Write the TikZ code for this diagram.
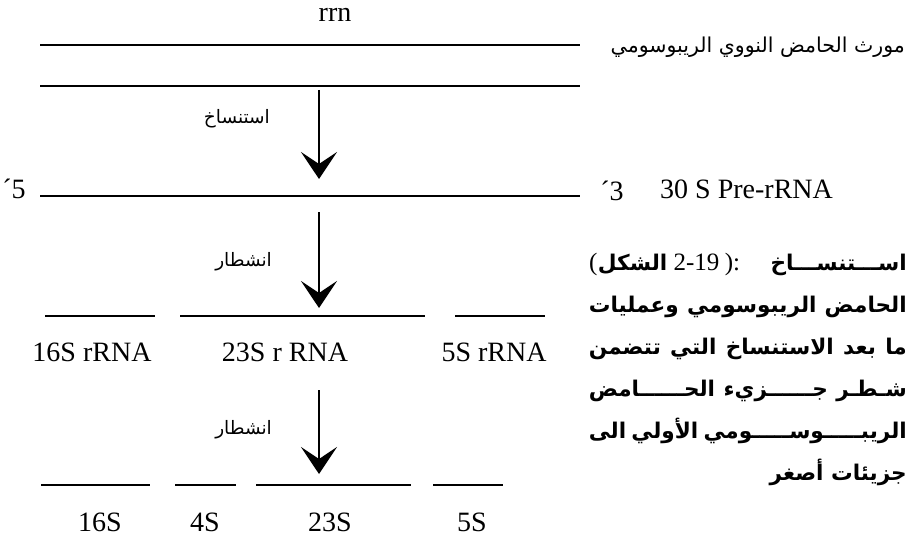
\documentclass[tikz,border=0pt]{standalone}
\usepackage{fontspec}
\setmainfont{Liberation Serif}
\newfontfamily\arabicfont[Script=Arabic]{DejaVu Sans}
\TeXXeTstate=1
\usetikzlibrary{arrows.meta}
\tikzset{
  strand/.style={line width=2.4pt},
  procarrow/.style={line width=2.2pt,-{Stealth[length=27pt,width=36pt,inset=12pt]}},
  lat/.style={font=\fontsize{28}{31}\selectfont,inner sep=0pt},
  arlabel/.style={font=\fontsize{18.5}{22}\selectfont\arabicfont,inner sep=0pt,anchor=east},
  capline/.style={font=\fontsize{21.6}{25}\selectfont\arabicfont\bfseries,inner sep=0pt,anchor=base east},
  capnum/.style={font=\fontsize{25}{28}\selectfont,inner sep=0pt,anchor=base west}
}
\begin{document}
\begin{tikzpicture}[x=1pt,y=-1pt]
\useasboundingbox (0,0) rectangle (917,540);
% strands
\coordinate (g1a) at (40,45); \coordinate (g1b) at (580,45);
\coordinate (g2a) at (40,86); \coordinate (g2b) at (580,86);
\coordinate (p1) at (40,196); \coordinate (p2) at (580,196);
\draw[strand] (g1a) -- (g1b);
\draw[strand] (g2a) -- (g2b);
\draw[strand] (p1) -- (p2);
\coordinate (r16a) at (45,316); \coordinate (r16b) at (155,316);
\coordinate (r23a) at (180,316); \coordinate (r23b) at (425,316);
\coordinate (r5a) at (455,316); \coordinate (r5b) at (545,316);
\draw[strand] (r16a) -- (r16b);
\draw[strand,line width=2pt] (r23a) -- (r23b);
\draw[strand,line width=1.6pt] (r5a) -- (r5b);
\coordinate (f16a) at (41,485); \coordinate (f16b) at (150,485);
\coordinate (f4a) at (175,485); \coordinate (f4b) at (236,485);
\coordinate (f23a) at (256,485); \coordinate (f23b) at (411,485);
\coordinate (f5a) at (433,485); \coordinate (f5b) at (503,485);
\draw[strand,line width=2.8pt] (f16a) -- (f16b);
\draw[strand,line width=1.6pt] (f4a) -- (f4b);
\draw[strand,line width=2pt] (f23a) -- (f23b);
\draw[strand,line width=2pt] (f5a) -- (f5b);
% arrows
\coordinate (a1s) at (319,90); \coordinate (a1e) at (319,179);
\coordinate (a2s) at (319,212); \coordinate (a2e) at (319,308);
\coordinate (a3s) at (319,390); \coordinate (a3e) at (319,474);
\draw[procarrow] (a1s) -- (a1e);
\draw[procarrow] (a2s) -- (a2e);
\draw[procarrow] (a3s) -- (a3e);
% labels
\node[lat] (rrn) at (335,15) {rrn};
\node[font=\fontsize{20.5}{24}\selectfont\arabicfont,inner sep=0pt,anchor=east] (gene) at (905,47) {\beginR مورث الحامض النووي الريبوسومي\endR};
\node[arlabel] (l1) at (270,119) {\beginR استنساخ\endR};
\node[arlabel] (l2) at (272,262) {\beginR انشطار\endR};
\node[arlabel] (l3) at (272,430) {\beginR انشطار\endR};
\node[lat] (five) at (14,189) {´5};
\node[lat] (three) at (612,191) {´3};
\node[lat,anchor=west] (pre) at (660,189) {30 S Pre-rRNA};
\node[lat] (n16) at (92,352) {16S rRNA};
\node[lat] (n23) at (285,352) {23S r RNA};
\node[lat] (n5) at (494,352) {5S rRNA};
\node[lat] (m16) at (100,522) {16S};
\node[lat] (m4) at (205,522) {4S};
\node[lat] (m23) at (330,522) {23S};
\node[lat] (m5) at (472,522) {5S};
% caption, first line in pieces, left to right
\node[capnum] (c1a) at (589,270) {(};
\node[capline,anchor=base west] (c1b) at (c1a.base east) {الشكل};
\node[capnum] (c1c) at ([xshift=6pt]c1b.base east) {2-19};
\node[capnum] (c1d) at ([xshift=5pt]c1c.base east) {):};
\node[capline] (c1e) at (907,270) {اســـتنســـاخ};
\node[capline] (c2) at (907,312) {\makebox[318pt][s]{\beginR الحامض الريبوسومي وعمليات\endR}};
\node[capline] (c3) at (907,354) {\makebox[318pt][s]{\beginR ما بعد الاستنساخ التي تتضمن\endR}};
\node[capline] (c4) at (907,396) {\makebox[318pt][s]{\beginR شـطـر جــــــزيء الحــــــامض\endR}};
\node[capline] (c5) at (907,438) {\makebox[318pt][s]{\beginR الريبـــــوســـــومي الأولي الى\endR}};
\node[capline] (c6) at (907,480) {\beginR جزيئات أصغر\endR};
\end{tikzpicture}
\end{document}
